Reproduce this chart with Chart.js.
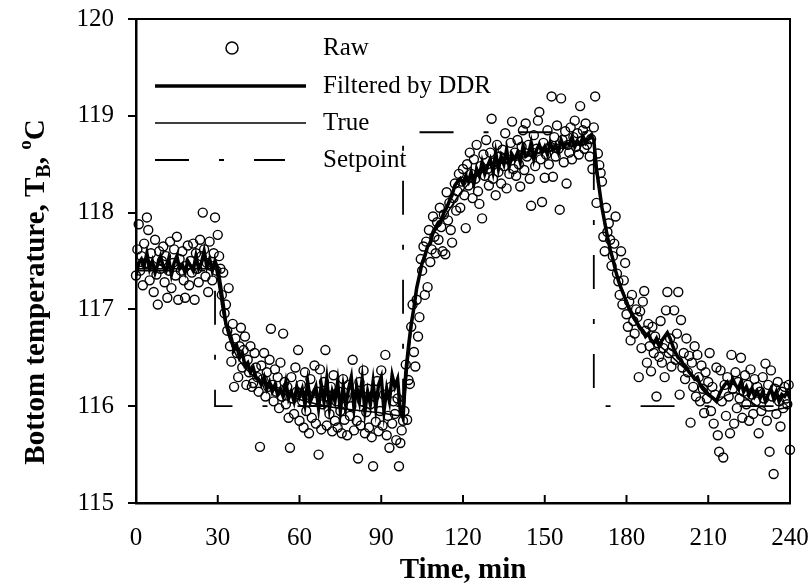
<!DOCTYPE html>
<html>
<head>
<meta charset="utf-8">
<script src="https://cdn.jsdelivr.net/npm/chart.js@4.4.0/dist/chart.umd.min.js"></script>
<style>
html, body { margin: 0; padding: 0; background: #fff; }
#wrap { width: 808px; height: 588px; }
</style>
</head>
<body>
<div id="wrap"><canvas id="chart" width="808" height="588"></canvas></div>
<script>
// raw measurements, one every 0.5 min from t = 0
const rawStep = 0.5;
const rawValues = [
    // 0 - 29.5
    117.35, 117.62, 117.88, 117.40, 117.55, 117.25, 117.68, 117.48, 117.95, 117.82,
    117.30, 117.58, 117.45, 117.18, 117.72, 117.36, 117.05, 117.60, 117.42, 117.50,
    117.65, 117.28, 117.55, 117.12, 117.40, 117.70, 117.22, 117.48, 117.62, 117.35,
    117.75, 117.10, 117.52, 117.40, 117.60, 117.30, 117.12, 117.45, 117.66, 117.25,
    117.50, 117.38, 117.68, 117.10, 117.58, 117.42, 117.28, 117.72, 117.55, 118.00,
    117.62, 117.34, 117.48, 117.18, 117.70, 117.45, 117.30, 117.58, 117.95, 117.40,
    // 30 - 59.5
    117.77, 117.55, 117.42, 117.15, 117.38, 116.96, 117.05, 116.78, 117.22, 116.62,
    116.46, 116.85, 116.20, 116.70, 116.55, 116.30, 116.62, 116.81, 116.40, 116.58,
    116.72, 116.22, 116.48, 116.35, 116.62, 116.20, 116.24, 116.55, 116.40, 116.30,
    116.15, 115.58, 116.42, 116.28, 116.55, 116.10, 116.35, 116.20, 116.48, 116.80,
    116.22, 116.05, 116.38, 116.15, 116.30, 115.98, 116.45, 116.10, 116.75, 116.25,
    116.02, 116.20, 115.88, 115.57, 116.30, 116.08, 115.92, 116.40, 116.15, 116.58,
    // 60 - 98.5
    115.85, 116.22, 116.05, 115.78, 116.35, 115.95, 116.12, 115.72, 116.28, 115.88,
    116.05, 116.42, 115.82, 116.15, 115.50, 116.38, 115.76, 116.02, 116.25, 116.58,
    115.80, 116.10, 115.92, 116.20, 115.74, 116.32, 115.85, 116.05, 115.78, 116.15,
    115.95, 115.72, 116.28, 115.86, 116.08, 115.70, 116.22, 115.90, 116.00, 116.48,
    115.75, 116.12, 115.85, 115.46, 116.25, 115.80, 116.05, 116.37, 115.72, 115.94,
    116.18, 115.78, 116.02, 115.68, 115.38, 116.10, 115.84, 116.26, 115.74, 115.95,
    116.37, 115.80, 116.12, 116.53, 115.70, 115.90, 115.57, 116.20, 115.82, 116.05,
    115.92, 115.65, 116.08, 115.38, 115.62, 115.75, 115.85, 115.95,
    // 99 - 118.5
    116.43, 115.86, 116.27, 116.23, 116.82, 117.05, 116.56, 116.41, 117.10, 116.72,
    116.92, 117.52, 117.40, 117.65, 117.15, 117.70, 117.23, 117.82, 117.49, 117.62,
    117.96, 117.75, 117.58, 117.90, 117.72, 118.05, 117.85, 117.60, 117.98, 117.57,
    118.21, 117.92, 118.10, 117.82, 117.69, 118.15, 118.30, 118.02, 118.22, 118.40,
    // 119 - 168.5
    118.05, 118.32, 118.45, 118.18, 117.84, 118.50, 118.28, 118.62, 118.40, 118.15,
    118.55, 118.35, 118.70, 118.22, 118.09, 118.48, 117.94, 118.60, 118.38, 118.75,
    118.45, 118.28, 118.62, 118.97, 118.35, 118.52, 118.18, 118.70, 118.42, 118.58,
    118.30, 118.65, 118.48, 118.82, 118.25, 118.55, 118.40, 118.72, 118.94, 118.45,
    118.62, 118.38, 118.75, 118.50, 118.27, 118.68, 118.85, 118.44, 118.92, 118.58,
    118.70, 118.35, 118.07, 118.62, 118.80, 118.48, 118.66, 118.95, 119.04, 118.55,
    118.11, 118.72, 118.36, 118.60, 118.85, 118.50, 118.68, 119.20, 118.37, 118.78,
    118.58, 118.90, 118.66, 118.03, 119.18, 118.75, 118.52, 118.84, 118.30, 118.70,
    118.62, 118.88, 118.55, 118.78, 118.95, 118.68, 118.82, 118.60, 119.10, 118.74,
    118.85, 118.66, 118.92, 118.70, 118.80, 118.58, 118.76, 118.45, 118.88, 119.20,
    // 169 - 198.5
    118.10, 118.61, 118.49, 118.41, 118.32, 117.75, 117.60, 118.05, 117.80, 117.89,
    117.72, 117.45, 117.55, 117.68, 117.96, 117.37, 117.29, 117.15, 117.60, 117.05,
    117.30, 117.48, 116.95, 116.82, 117.08, 116.68, 117.15, 116.88, 116.75, 117.00,
    116.92, 116.30, 116.98, 116.60, 117.08, 117.19, 116.78, 116.45, 116.85, 116.62,
    116.36, 116.82, 116.55, 116.72, 116.10, 116.65, 116.51, 116.88, 116.45, 116.60,
    116.30, 116.99, 117.18, 116.55, 116.70, 116.41, 116.62, 116.99, 116.48, 116.75,
    // 199 - 240
    117.18, 116.12, 116.89, 116.40, 116.55, 116.28, 116.70, 116.35, 116.52, 115.83,
    116.45, 116.20, 116.62, 116.10, 116.53, 116.30, 116.05, 116.42, 116.18, 115.93,
    116.35, 116.08, 116.25, 116.55, 115.95, 116.20, 115.82, 116.12, 116.40, 115.70,
    115.53, 116.37, 116.05, 115.47, 116.22, 115.90, 116.30, 116.10, 115.72, 116.53,
    116.18, 115.82, 116.35, 115.98, 116.25, 116.08, 116.50, 115.88, 116.15, 116.32,
    116.02, 116.22, 115.85, 116.38, 116.12, 115.92, 116.28, 116.05, 116.20, 115.72,
    116.15, 115.95, 116.30, 116.08, 116.44, 115.85, 116.22, 115.53, 116.37, 116.10,
    115.30, 116.18, 115.92, 116.25, 116.05, 115.79, 116.15, 115.98, 116.20, 116.08,
    116.02, 116.22, 115.55
];

// DDR filter output, one every 1 min from t = 0
const filteredValues = [
    117.35, 117.48, 117.52, 117.45, 117.58, 117.42, 117.50, 117.38, 117.47, 117.55,
    117.44, 117.40, 117.52, 117.36, 117.48, 117.55, 117.42, 117.46, 117.38, 117.50,
    117.45, 117.40, 117.55, 117.42, 117.48, 117.60, 117.44, 117.52, 117.40, 117.50,
    117.42, 117.25, 117.05, 116.85, 116.78, 116.70, 116.58, 116.62, 116.50, 116.55,
    116.42, 116.45, 116.35, 116.40, 116.30, 116.28, 116.22, 116.30, 116.18, 116.25,
    116.15, 116.22, 116.12, 116.18, 116.10, 116.25, 116.08, 116.15, 116.05, 116.20,
    116.10, 116.18, 116.02, 116.25, 116.05, 116.12, 116.20, 115.98, 116.22, 116.05,
    116.28, 115.98, 116.15, 116.05, 116.25, 115.95, 116.20, 116.00, 116.18, 116.30,
    115.98, 116.20, 116.05, 116.28, 115.95, 116.15, 116.02, 116.25, 115.98, 116.22,
    116.30, 115.95, 116.18, 116.05, 116.32, 116.20, 116.28, 115.95, 115.88,
    116.35, 116.62, 116.85, 117.02, 117.22, 117.35, 117.48, 117.55, 117.65, 117.68,
    117.80, 117.85, 117.90, 117.92, 118.00, 118.05, 118.12, 118.18, 118.28, 118.32,
    118.35, 118.30, 118.38, 118.32, 118.42, 118.30, 118.45, 118.38, 118.52, 118.40,
    118.48, 118.55, 118.42, 118.62, 118.45, 118.58, 118.50, 118.65, 118.48, 118.60,
    118.55, 118.62, 118.52, 118.68, 118.58, 118.60, 118.72, 118.55, 118.65, 118.70,
    118.62, 118.68, 118.60, 118.72, 118.65, 118.70, 118.62, 118.75, 118.68, 118.72,
    118.70, 118.78, 118.68, 118.74, 118.70, 118.78, 118.72, 118.76, 118.80, 118.75,
    118.45, 118.25, 118.05, 117.90, 117.75, 117.62, 117.52, 117.40, 117.30, 117.22,
    117.15, 117.08, 117.00, 116.95, 116.90, 116.85, 116.80, 116.78, 116.72, 116.75,
    116.68, 116.65, 116.70, 116.62, 116.68, 116.72, 116.76, 116.70, 116.62, 116.55,
    116.50, 116.48, 116.42, 116.40, 116.35, 116.32, 116.28, 116.30, 116.22, 116.18,
    116.15, 116.12, 116.10, 116.08, 116.05, 116.12, 116.18, 116.22, 116.25, 116.20,
    116.28, 116.22, 116.18, 116.25, 116.15, 116.20, 116.12, 116.18, 116.10, 116.15,
    116.08, 116.15, 116.05, 116.12, 116.18, 116.08, 116.15, 116.05, 116.12, 116.10,
    116.15, 116.08
];

const trueTime = [
    0, 29, 30, 31, 32, 33, 34, 35, 36, 38,
    40, 42, 45, 50, 55, 60, 70, 80, 90, 98,
    99, 100, 101, 102, 103, 104, 105, 107, 109, 112,
    115, 119, 124, 129, 139, 149, 159, 168, 169, 170,
    171, 172, 173, 175, 177, 179, 182, 185, 189, 194,
    199, 204, 209, 213, 217, 220, 224, 228, 232, 236,
    240
];
const trueValues = [
    117.42, 117.42, 117.30, 117.12, 116.95, 116.82, 116.72, 116.64, 116.57, 116.47,
    116.40, 116.34, 116.27, 116.18, 116.12, 116.07, 116.00, 115.96, 115.93, 115.90,
    116.20, 116.50, 116.78, 117.00, 117.20, 117.38, 117.50, 117.66, 117.77, 117.90,
    118.03, 118.20, 118.35, 118.45, 118.55, 118.62, 118.68, 118.72, 118.50, 118.28,
    118.08, 117.92, 117.78, 117.52, 117.32, 117.17, 116.97, 116.83, 116.70, 116.58,
    116.45, 116.32, 116.18, 116.05, 116.12, 116.14, 116.08, 116.00, 115.95, 115.97,
    116.00
];

const setpointTime = [0, 29, 29, 98, 98, 168, 168, 240];
const setpointValues = [117.4, 117.4, 116.0, 116.0, 118.83, 118.83, 116.0, 116.0];

const xTicks = [0, 30, 60, 90, 120, 150, 180, 210, 240];
const yTicks = [115, 116, 117, 118, 119, 120];

const legendLabels = ['Raw', 'Filtered by DDR', 'True', 'Setpoint'];

const serif = '"Liberation Serif", "Times New Roman", serif';
const setpointDash = [34, 30, 5, 30];

const rawPoints = rawValues.map((v, i) => ({ x: i * rawStep, y: v }));
const filteredPoints = filteredValues.map((v, i) => ({ x: i, y: v }));
const truePoints = trueTime.map((t, i) => ({ x: t, y: trueValues[i] }));
const setpointPoints = setpointTime.map((t, i) => ({ x: t, y: setpointValues[i] }));

// frame, inward x ticks, legend and the y title with sub/superscripts
const decorPlugin = {
    id: 'decor',
    afterDraw(chart) {
        const ctx = chart.ctx;
        const area = chart.chartArea;
        const xs = chart.scales.x;
        ctx.save();
        ctx.strokeStyle = '#000';
        ctx.lineWidth = 2;
        ctx.beginPath();
        ctx.moveTo(area.left, area.top);
        ctx.lineTo(area.right, area.top);
        ctx.lineTo(area.right, area.bottom);
        ctx.stroke();

        xTicks.forEach(t => {
            const px = xs.getPixelForValue(t);
            ctx.beginPath();
            ctx.moveTo(px, area.bottom);
            ctx.lineTo(px, area.bottom - 8);
            ctx.stroke();
        });

        // legend
        const lx0 = 155, lx1 = 306, tx = 323;
        const rows = [48, 86, 123, 160];
        ctx.lineWidth = 1.5;
        ctx.beginPath();
        ctx.arc(232, rows[0], 6, 0, Math.PI * 2);
        ctx.stroke();
        ctx.lineWidth = 3.5;
        ctx.beginPath();
        ctx.moveTo(lx0, rows[1]); ctx.lineTo(lx1, rows[1]);
        ctx.stroke();
        ctx.lineWidth = 1.5;
        ctx.beginPath();
        ctx.moveTo(lx0, rows[2]); ctx.lineTo(lx1, rows[2]);
        ctx.stroke();
        ctx.lineWidth = 1.8;
        ctx.setLineDash(setpointDash);
        ctx.beginPath();
        ctx.moveTo(lx0, rows[3]); ctx.lineTo(285, rows[3]);
        ctx.stroke();
        ctx.setLineDash([]);

        ctx.fillStyle = '#000';
        ctx.font = '25px ' + serif;
        ctx.textBaseline = 'middle';
        ctx.textAlign = 'left';
        legendLabels.forEach((s, i) => ctx.fillText(s, tx, rows[i]));

        // y axis title
        const parts = [
            { s: 'Bottom temperature, T', size: 29, dy: 0 },
            { s: 'B', size: 20, dy: 8 },
            { s: ', ', size: 29, dy: 0 },
            { s: 'o', size: 19, dy: -11 },
            { s: 'C', size: 29, dy: 0 }
        ];
        let total = 0;
        parts.forEach(p => {
            ctx.font = 'bold ' + p.size + 'px ' + serif;
            p.w = ctx.measureText(p.s).width;
            total += p.w;
        });
        ctx.translate(37, 292);
        ctx.rotate(-Math.PI / 2);
        ctx.textBaseline = 'middle';
        let x = -total / 2;
        parts.forEach(p => {
            ctx.font = 'bold ' + p.size + 'px ' + serif;
            ctx.fillText(p.s, x, p.dy);
            x += p.w;
        });
        ctx.restore();
    }
};

new Chart(document.getElementById('chart'), {
    type: 'scatter',
    data: {
        datasets: [
            {
                label: 'Filtered by DDR',
                data: filteredPoints,
                showLine: true,
                borderColor: '#000',
                borderWidth: 3.5,
                pointRadius: 0,
                order: 1
            },
            {
                label: 'True',
                data: truePoints,
                showLine: true,
                borderColor: '#000',
                borderWidth: 1.5,
                pointRadius: 0,
                cubicInterpolationMode: 'monotone',
                order: 2
            },
            {
                label: 'Setpoint',
                data: setpointPoints,
                showLine: true,
                borderColor: '#000',
                borderWidth: 1.8,
                borderDash: setpointDash,
                pointRadius: 0,
                order: 3
            },
            {
                label: 'Raw',
                data: rawPoints,
                pointStyle: 'circle',
                pointRadius: 4.5,
                pointBorderWidth: 1.4,
                pointBorderColor: '#000',
                pointBackgroundColor: 'rgba(0,0,0,0)',
                clip: 8,
                order: 4
            }
        ]
    },
    options: {
        responsive: false,
        animation: false,
        layout: {
            padding: { top: 19, right: 18, left: 0, bottom: 0 }
        },
        scales: {
            x: {
                type: 'linear',
                min: 0,
                max: 240,
                afterBuildTicks: s => { s.ticks = xTicks.map(v => ({ value: v })); },
                afterFit: s => { s.height = 85; s.paddingLeft = 0; s.paddingRight = 0; },
                grid: { display: true, drawOnChartArea: false, drawTicks: false },
                border: { display: true, color: '#000', width: 2.5 },
                ticks: {
                    color: '#000',
                    padding: 20,
                    maxRotation: 0,
                    font: { family: serif, size: 25 }
                },
                title: {
                    display: true,
                    text: 'Time, min',
                    color: '#000',
                    padding: { top: 0, bottom: 0 },
                    font: { family: serif, size: 29, weight: 'bold' }
                }
            },
            y: {
                type: 'linear',
                min: 115,
                max: 120,
                afterBuildTicks: s => { s.ticks = yTicks.map(v => ({ value: v })); },
                afterFit: s => { s.width = 136; s.paddingTop = 0; s.paddingBottom = 0; },
                grid: {
                    display: true,
                    drawOnChartArea: false,
                    drawTicks: true,
                    tickLength: 8,
                    color: '#000',
                    lineWidth: 2
                },
                border: { display: true, color: '#000', width: 2.5 },
                ticks: {
                    color: '#000',
                    padding: 14,
                    font: { family: serif, size: 25 }
                }
            }
        },
        plugins: {
            legend: { display: false },
            tooltip: { enabled: false }
        }
    },
    plugins: [decorPlugin]
});
</script>
</body>
</html>
